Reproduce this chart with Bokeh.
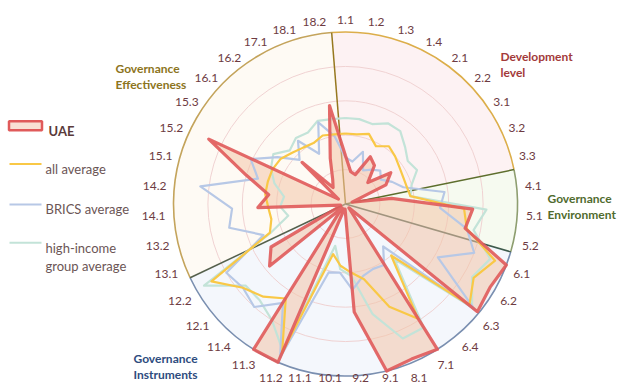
import math
from bokeh.plotting import figure
from bokeh.models import Range1d
from bokeh.embed import file_html
from bokeh.resources import INLINE
from bokeh.core.properties import value

categories = ["1.1", "1.2", "1.3", "1.4", "2.1", "2.2", "3.1", "3.2", "3.3",
              "4.1", "5.1", "5.2",
              "6.1", "6.2", "6.3", "6.4", "7.1", "8.1", "9.1", "9.2", "10.1",
              "11.1", "11.2", "11.3", "11.4", "12.1", "12.2",
              "13.1", "13.2", "14.1", "14.2", "15.1", "15.2", "15.3", "16.1",
              "16.2", "17.1", "18.1", "18.2"]

uae = [0.28, 0.19, 0.18, 0.31, 0.28, 0.18, 0.32, 0.26, 0.04,
       0.27, 0.74, 0.71,
       1.00, 0.97, 0.99, 0.03, 1.00, 0.98, 1.00, 0.63, 0.03,
       0.03, 1.00, 1.00, 0.03, 0.57, 0.50,
       0.03, 0.03, 0.51, 0.45, 0.60, 0.88, 0.05, 0.35,
       0.12, 0.16, 0.28, 0.58]

all_average = [0.41, 0.41, 0.43, 0.38, 0.42, 0.40, 0.38, 0.37, 0.37,
               0.38, 0.69, 0.72,
               0.93, 0.86, 0.93, 0.40, 0.79, 0.65, 0.45, 0.40, 0.36,
               0.30, 0.94, 0.65, 0.72, 0.77, 0.90,
               0.47, 0.44, 0.45, 0.47, 0.47, 0.47, 0.46, 0.43,
               0.41, 0.40, 0.42, 0.41]

brics_average = [0.27, 0.25, 0.32, 0.22, 0.25, 0.28, 0.25, 0.30, 0.35,
                 0.58, 0.55, 0.72,
                 0.80, 0.62, 0.97, 0.33, 0.42, 0.41, 0.43, 0.50, 0.40,
                 0.41, 0.97, 0.68, 0.80, 0.77, 0.80,
                 0.51, 0.69, 0.66, 0.85, 0.53, 0.61, 0.48, 0.37,
                 0.46, 0.33, 0.50, 0.40]

high_income_average = [0.50, 0.50, 0.49, 0.53, 0.53, 0.48, 0.44, 0.46, 0.40,
                       0.38, 0.82, 0.76,
                       0.90, 0.85, 0.95, 0.43, 0.85, 0.85, 0.66, 0.42, 0.38,
                       0.25, 0.93, 0.80, 0.75, 0.75, 0.95,
                       0.46, 0.34, 0.38, 0.36, 0.43, 0.48, 0.51, 0.45,
                       0.48, 0.47, 0.51, 0.50]

group_names = [["Development", "level"], ["Governance", "Environment"],
               ["Governance", "Instruments"], ["Governance", "Effectiveness"]]
group_sizes = [9, 3, 15, 12]
grid_levels = [0.2, 0.4, 0.6, 0.8]

# styles
sector_fill = ["#fdf2f3", "#f6faf0", "#f4f7fc", "#fefaf4"]
sector_arc = ["#dcae4a", "#8e9e70", "#7a8fb0", "#c4a45c"]
boundary_line = ["#96781e", "#5d6e2c", "#3e5a4c", "#55604c"]
group_color = ["#a33a3a", "#506b2e", "#2e4c7e", "#8c7420"]
group_pos = [(500, 52, 12), (547, 194, 12), (133, 354, 12), (115, 64, 12)]

W, H = 619, 387
CX, CY, R = 345.0, -203.5, 172.0
N = len(categories)
step = 2 * math.pi / N

p = figure(width=W, height=H, x_range=Range1d(0, W), y_range=Range1d(-H, 0),
           output_backend="svg", toolbar_location=None, min_border=0,
           x_axis_location=None, y_axis_location=None,
           outline_line_color=None, background_fill_color="white",
           border_fill_color="white")
p.grid.visible = False


def pt(i, v):
    th = i * step
    return CX + v * R * math.sin(th), CY + v * R * math.cos(th)


# sectors
start = -0.5
for k, n in enumerate(group_sizes):
    ta = start * step
    tb = (start + n) * step
    p.wedge(x=CX, y=CY, radius=R, start_angle=math.pi / 2 - tb, end_angle=math.pi / 2 - ta,
            fill_color=sector_fill[k], line_color=None)
    start += n

# grid circles
for g in grid_levels:
    p.circle(x=CX, y=CY, radius=g * R, fill_color=None, line_color="#f0d2d2", line_width=1)

# outer arcs
start = -0.5
for k, n in enumerate(group_sizes):
    ta = start * step
    tb = (start + n) * step
    p.arc(x=CX, y=CY, radius=R, start_angle=math.pi / 2 - tb, end_angle=math.pi / 2 - ta,
          line_color=sector_arc[k], line_width=1.6)
    start += n

# boundary radial lines
start = -0.5
for k, n in enumerate(group_sizes):
    th = start * step
    p.segment(x0=CX, y0=CY, x1=CX + R * math.sin(th), y1=CY + R * math.cos(th),
              line_color=boundary_line[k], line_width=1.5)
    start += n


def poly(vals):
    xs, ys = [], []
    for i, v in enumerate(vals):
        x, y = pt(i, v)
        xs.append(x)
        ys.append(y)
    return xs, ys


ux, uy = poly(uae)
p.patch(ux, uy, fill_color="#f2c4a8", fill_alpha=0.55, line_alpha=0)

for vals, col in [(high_income_average, "#c3e3d8"), (brics_average, "#b7c8e6"),
                  (all_average, "#f9c846")]:
    xs, ys = poly(vals)
    p.line(xs + [xs[0]], ys + [ys[0]], line_color=col, line_width=2.2, line_join="round")

p.line(ux + [ux[0]], uy + [uy[0]], line_color="#e05a5a", line_alpha=0.9, line_width=3.2,
       line_join="round")

# category labels (alphabetic baseline: baseline = centre + 0.36 * font size)
FS = 12
lx, ly = [], []
for i, lab in enumerate(categories):
    th = i * step
    s, c = math.sin(th), math.cos(th)
    g = 8 + 1.5 * c
    w = 6.0 * len(lab)
    h = 14
    x = CX + (R + g) * s + w / 2 * s
    yc_img = -(CY + (R + g) * c + h / 2 * c)
    yc_img = min(yc_img, 373.0)
    lx.append(x)
    ly.append(-(yc_img + 0.36 * FS))
p.text(x=lx, y=ly, text=categories, text_align="center", text_baseline="alphabetic",
       text_font=value("Lato"), text_font_size=f"{FS}px", text_color="#6e3b42")

# group labels
for k, names in enumerate(group_names):
    gx, gy, fs = group_pos[k]
    p.text(x=[gx, gx], y=[-(gy + 0.36 * fs), -(gy + 15.5 + 0.36 * fs)], text=names,
           text_align="left", text_baseline="alphabetic", text_font=value("Lato"),
           text_font_size=f"{fs}px", text_font_style="bold", text_color=group_color[k])

# legend
p.rect(x=[25], y=[-125.3], width=33, height=9, fill_color="#f9e0d4",
       line_color="#e05a5a", line_width=2.5)
p.text(x=[48], y=[-(125.3 + 4.7)], text=["UAE"], text_align="left",
       text_baseline="alphabetic", text_font=value("Lato"), text_font_size="13px",
       text_font_style="bold", text_color="#5a3a3a")
legend_items = [("all average", "#f9c846", 163.5), ("BRICS average", "#b7c8e6", 204),
                ("high-income", "#c3e3d8", 242.3)]
for name, col, yy in legend_items:
    p.segment(x0=9, y0=-yy, x1=41, y1=-yy, line_color=col, line_width=2)
    p.text(x=[45], y=[-(yy + 4.7)], text=[name], text_align="left",
           text_baseline="alphabetic", text_font=value("Lato"), text_font_size="13px",
           text_color="#6b5555")
p.text(x=[45], y=[-(260.7 + 4.7)], text=["group average"], text_align="left",
       text_baseline="alphabetic", text_font=value("Lato"), text_font_size="13px",
       text_color="#6b5555")

open("out.html", "w").write(file_html(p, INLINE))
